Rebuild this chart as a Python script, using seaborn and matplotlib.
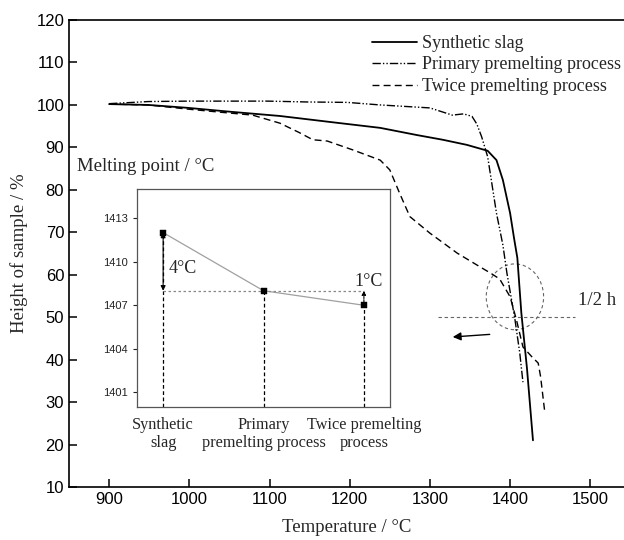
import matplotlib
matplotlib.use('Agg')
import matplotlib.pyplot as plt
from matplotlib.patches import Ellipse
import matplotlib.transforms as mtransforms
import seaborn as sns

# Sample height vs temperature
synthetic_t = [900, 949, 999, 1051, 1113, 1175, 1238, 1284, 1316, 1346, 1372,
               1383, 1391, 1400, 1405, 1409, 1414, 1421, 1428.5]
synthetic_h = [100.2, 100.0, 99.3, 98.4, 97.4, 96.0, 94.6, 92.9, 91.8, 90.6, 89.2,
               87.0, 82.3, 74.5, 68.5, 64.0, 51.0, 38.0, 21.0]

primary_t = [900, 949, 999, 1098, 1147, 1197, 1238, 1300, 1328, 1342, 1352.5,
             1358.5, 1364.5, 1372, 1383, 1391, 1396, 1406, 1412, 1416]
primary_h = [100.3, 100.8, 100.9, 100.9, 100.7, 100.6, 100.0, 99.3, 97.6, 97.9, 97.3,
             95.5, 92.5, 87.8, 74.5, 67.0, 60.4, 49.5, 41.6, 34.7]

twice_t = [900, 949, 999, 1038, 1079, 1113, 1137, 1154, 1172, 1204, 1238, 1250,
           1262, 1275, 1300, 1334, 1363, 1375.5, 1387, 1400, 1408, 1416, 1427, 1435,
           1438, 1443]
twice_h = [100.2, 100.0, 99.0, 98.3, 97.6, 95.7, 93.5, 91.8, 91.5, 89.4, 87.0, 84.7,
           79.3, 73.7, 69.8, 65.1, 61.8, 60.4, 59.0, 54.8, 49.3, 43.0, 40.7, 39.2,
           36.0, 28.0]

# Melting points for the inset
mp_labels = ['Synthetic\nslag', 'Primary\npremelting process', 'Twice premelting\nprocess']
mp_pos = [1, 2, 3]
mp_values = [1412, 1408, 1407]

sns.set_style('ticks')
plt.rcParams['font.family'] = ['Liberation Sans', 'DejaVu Sans']
SERIF = ['Liberation Serif', 'DejaVu Serif']

fig = plt.figure(figsize=(6.24, 5.4), dpi=100)
ax = fig.add_axes([0.1106, 0.0981, 0.8894, 0.8648])

sns.lineplot(x=synthetic_t, y=synthetic_h, ax=ax, color='black', lw=1.3,
             linestyle='-', sort=False, estimator=None, label='Synthetic slag')
sns.lineplot(x=primary_t, y=primary_h, ax=ax, color='black', lw=1.0,
             linestyle=(0, (6, 1.5, 1, 1.5, 1, 1.5)), sort=False, estimator=None,
             label='Primary premelting process')
sns.lineplot(x=twice_t, y=twice_h, ax=ax, color='black', lw=1.0,
             linestyle=(0, (5, 3)), sort=False, estimator=None,
             label='Twice premelting process')

ax.set_xlim(850, 1542)
ax.set_ylim(10, 120)
ax.set_xticks(range(900, 1501, 100))
ax.set_yticks(range(10, 121, 10))
ax.tick_params(direction='in', length=6, width=1.1, labelsize=12, colors='black')
for s in ['left', 'bottom', 'top']:
    ax.spines[s].set_linewidth(1.2)
    ax.spines[s].set_color('black')
ax.spines['right'].set_visible(False)

ax.set_xlabel('Temperature / °C', family=SERIF, fontsize=13.5, labelpad=9)
ax.set_ylabel('Height of sample / %', family=SERIF, fontsize=13.5, labelpad=6)

ax.legend(loc='upper left', bbox_to_anchor=(0.546, 0.968), frameon=False,
          borderpad=0, borderaxespad=0, handlelength=2.5, handletextpad=0.25,
          labelspacing=0.25, prop={'family': SERIF, 'size': 13})

# half height marker
ax.plot([1310, 1481], [50, 50], color='#666666', lw=0.8, linestyle=(0, (3, 2.5)))
ax.add_patch(Ellipse((1406, 54.8), 71.5, 15.5, fill=False, edgecolor='#666666',
                     lw=0.8, linestyle=(0, (3, 2.5))))
ax.text(1485, 54, '1/2 h', family=SERIF, fontsize=13.5, va='center', ha='left')
ax.annotate('', xy=(1325, 45.3), xytext=(1378, 46.0),
            arrowprops=dict(arrowstyle='-|>', color='black', lw=1.0,
                            mutation_scale=12))
ax.text(860, 85.4, 'Melting point / °C', family=SERIF, fontsize=13.5,
        va='center', ha='left')

# inset with melting points
ins = fig.add_axes([0.2196, 0.2463, 0.4054, 0.4037])
ins.set_facecolor('white')
sns.lineplot(x=mp_pos, y=mp_values, ax=ins, color='#a0a0a0', lw=0.9,
             sort=False, estimator=None)
sns.scatterplot(x=mp_pos, y=mp_values, ax=ins, color='black', marker='s',
                s=14, edgecolor='black', zorder=5)
for xv, yv in zip(mp_pos, mp_values):
    ins.plot([xv, xv], [1400, yv], color='black', lw=0.9, linestyle=(0, (3, 2)))
ins.plot([mp_pos[0], mp_pos[2]], [mp_values[1], mp_values[1]], color='#888888',
         lw=0.9, linestyle=(0, (2, 2)))
ins.annotate('', xy=(mp_pos[0], mp_values[0]), xytext=(mp_pos[0], mp_values[1]),
             arrowprops=dict(arrowstyle='<|-|>', color='black', lw=0.8,
                             mutation_scale=7, shrinkA=0, shrinkB=0))
ins.text(1.05, 1409.5, '4°C', family=SERIF, fontsize=13, va='center', ha='left')
ins.annotate('', xy=(mp_pos[2], mp_values[1]), xytext=(mp_pos[2], mp_values[2]),
             arrowprops=dict(arrowstyle='-|>', color='black', lw=0.8,
                             linestyle=(0, (2, 1)), mutation_scale=6,
                             shrinkA=0, shrinkB=0))
ins.text(3.05, 1408.05, '1°C', family=SERIF, fontsize=13, va='bottom', ha='center')

ins.set_xlim(0.74, 3.26)
ins.set_ylim(1400, 1415)
ins.set_yticks([1401, 1404, 1407, 1410, 1413])
ins.set_xticks([])
ins.tick_params(axis='y', direction='out', length=3, width=0.8, labelsize=8,
                colors='#222222')
for s in ins.spines.values():
    s.set_visible(True)
    s.set_color('#555555')
    s.set_linewidth(0.9)

# category labels under the inset, one text per line
trans = mtransforms.blended_transform_factory(ins.transData, ins.transAxes)
for xv, lab in zip(mp_pos, mp_labels):
    for i, line in enumerate(lab.split('\n')):
        ins.text(xv, -0.083 - 0.083 * i, line, transform=trans, family=SERIF,
                 fontsize=11.7, ha='center', va='center')

fig.savefig('out.png', dpi=100)
